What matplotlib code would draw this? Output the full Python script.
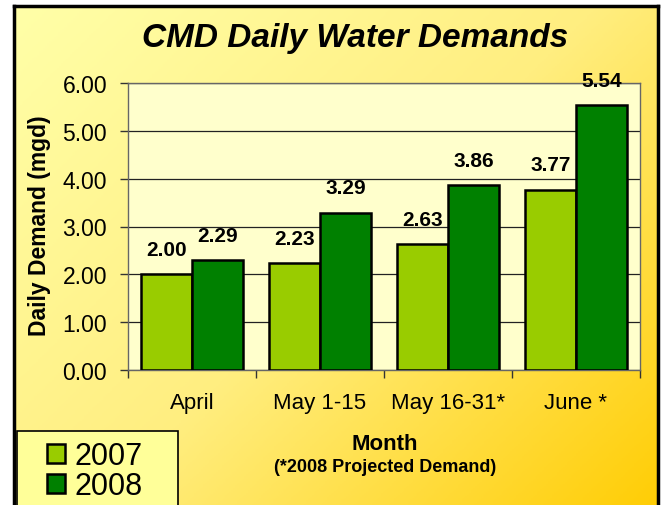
import numpy as np
import matplotlib
matplotlib.use('Agg')
import matplotlib.pyplot as plt
from matplotlib.patches import Rectangle
from matplotlib.colors import LinearSegmentedColormap

plt.rcParams['font.family'] = ['Liberation Sans', 'DejaVu Sans']

# data
months = ['April', 'May 1-15', 'May 16-31*', 'June *']
demand_2007 = [2.00, 2.23, 2.63, 3.77]
demand_2008 = [2.29, 3.29, 3.86, 5.54]
years = ['2007', '2008']
colors = ['#99CC00', '#008000']

W, H = 662, 506
fig = plt.figure(figsize=(W / 100, H / 100), dpi=100, facecolor='white')

# gradient backdrop with black frame
bg = fig.add_axes([14 / W, -0.05, 644 / W, 1 - 7 / H + 0.05], zorder=-10)
gx, gy = np.meshgrid(np.linspace(0, 1, 300), np.linspace(0, 1, 300))
grad = (gx * 0.55 + gy * 0.45)
cmap = LinearSegmentedColormap.from_list('bg', ['#FFFFA8', '#FFEE80', '#FFCC00'])
bg.imshow(grad, cmap=cmap, aspect='auto', extent=[0, 1, 0, 1], origin='upper')
bg.set_xticks([])
bg.set_yticks([])
for s in bg.spines.values():
    s.set_linewidth(2.5)
    s.set_color('black')

# main plot area
ax = fig.add_axes([128 / W, 1 - 371 / H, 512 / W, 287 / H])
ax.set_facecolor('#FFFFCC')
x = np.arange(len(months))
bw = 0.4
b1 = ax.bar(x - bw / 2, demand_2007, bw, color=colors[0], edgecolor='black', linewidth=1.8, zorder=3)
b2 = ax.bar(x + bw / 2, demand_2008, bw, color=colors[1], edgecolor='black', linewidth=1.8, zorder=3)

for bars, vals in [(b1, demand_2007), (b2, demand_2008)]:
    for rect, v in zip(bars, vals):
        ax.annotate(f'{v:.2f}', (rect.get_x() + rect.get_width() / 2, v),
                    xytext=(0, 11), textcoords='offset points',
                    ha='center', va='bottom', fontsize=15, fontweight='bold',
                    zorder=5, annotation_clip=False)

ax.set_xlim(-0.5, len(months) - 0.5)
ax.set_ylim(0, 6)
ax.set_yticks(np.arange(0, 7, 1))
ax.set_yticklabels([f'{v:.2f}' for v in np.arange(0, 7, 1)], fontsize=16.5)
ax.set_xticks(x)
ax.set_xticklabels(months, fontsize=16)
ax.set_xticks(np.arange(-0.5, len(months)), minor=True)
ax.tick_params(axis='x', which='major', length=0, pad=16)
ax.tick_params(axis='x', which='minor', length=6, width=1, color='#333333')
ax.tick_params(axis='y', length=6, width=1, pad=9, color='#333333')
ax.grid(axis='y', color='#222222', linewidth=0.9, zorder=1)
for s in ax.spines.values():
    s.set_color('#666666')
    s.set_linewidth(1)

fig.text(355 / W, 1 - 38 / H, 'CMD Daily Water Demands', ha='center', va='center',
         fontsize=24, fontweight='bold', fontstyle='italic')
fig.text(40 / W, 1 - 226 / H, 'Daily Demand (mgd)', ha='center', va='center',
         rotation=90, fontsize=16.5, fontweight='bold')
fig.text(385 / W, 1 - 445 / H, 'Month', ha='center', va='center',
         fontsize=16, fontweight='bold')
fig.text(385 / W, 1 - 468 / H, '(*2008 Projected Demand)', ha='center', va='center',
         fontsize=13, fontweight='bold')

# legend box
fig.patches.append(Rectangle((17 / W, -0.05), 161 / W, (506 - 432) / H + 0.05,
                             transform=fig.transFigure, facecolor='#FFFF99',
                             edgecolor='black', linewidth=1.2, zorder=1))
leg = fig.legend([b1, b2], years, loc='center left', bbox_to_anchor=(47 / W, 1 - 472 / H),
                 frameon=False, fontsize=22, handlelength=0.6, handleheight=0.6,
                 handletextpad=0.3, labelspacing=0.0, borderpad=0, borderaxespad=0)
leg.set_zorder(2)

plt.savefig('out.png', dpi=100)
